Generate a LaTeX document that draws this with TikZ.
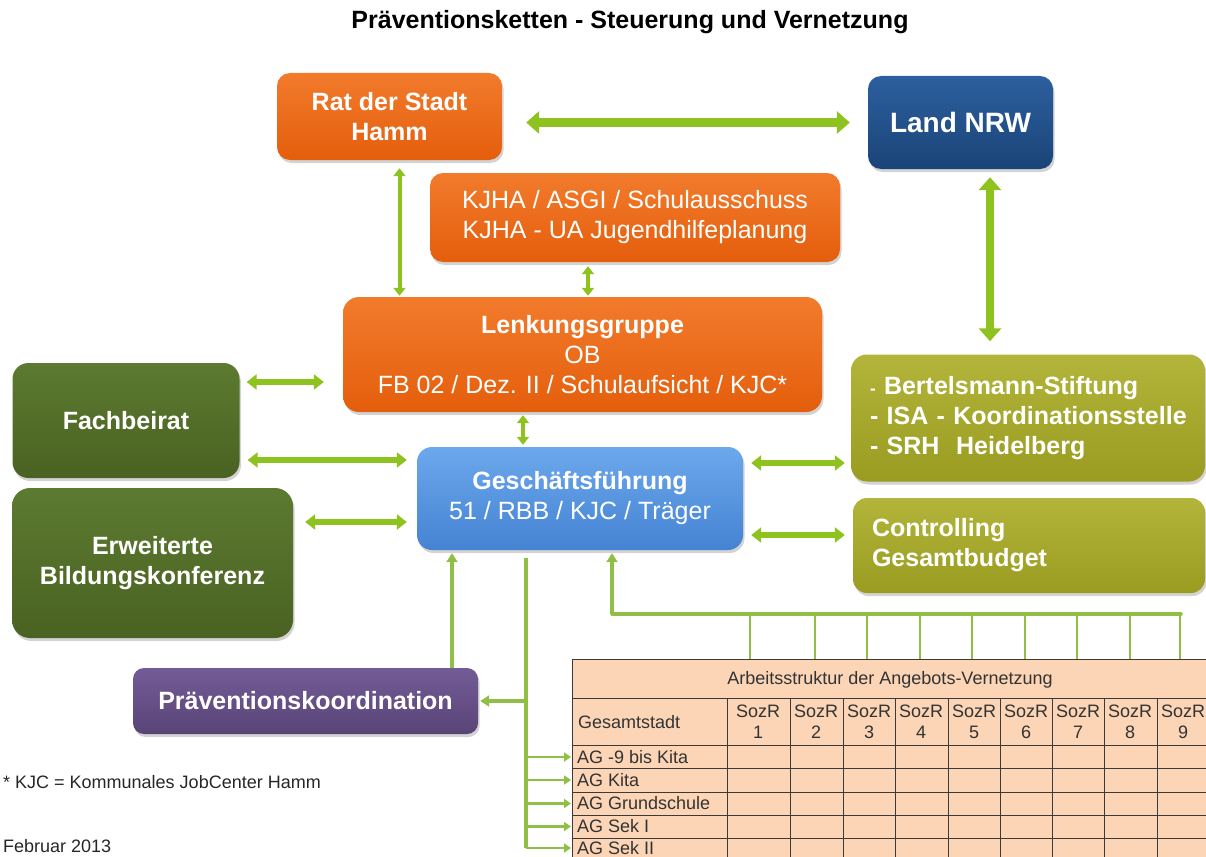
\documentclass[tikz,border=0pt]{standalone}
\usepackage{fontspec}
\setmainfont{Liberation Sans}
\usetikzlibrary{arrows.meta,shadows,calc}
\definecolor{cOrTop}{HTML}{F27B2C}
\definecolor{cOrBot}{HTML}{E45E0C}
\definecolor{cNavyTop}{HTML}{2D5F9E}
\definecolor{cNavyBot}{HTML}{1A4478}
\definecolor{cBlueTop}{HTML}{6CA8EC}
\definecolor{cBlueBot}{HTML}{4583D3}
\definecolor{cDGTop}{HTML}{5C7A30}
\definecolor{cDGBot}{HTML}{4A6222}
\definecolor{cOlTop}{HTML}{B3B53A}
\definecolor{cOlBot}{HTML}{9A9C22}
\definecolor{cPuTop}{HTML}{735C96}
\definecolor{cPuBot}{HTML}{594477}
\definecolor{cArrow}{HTML}{8DC21F}
\definecolor{cLine}{HTML}{8FBF45}
\definecolor{cTab}{HTML}{FBD5B6}
\definecolor{cTabLine}{HTML}{3A3A3A}
\newcommand\fsbig{\fontsize{25}{30}\selectfont}
\newcommand\fstab{\fontsize{18}{21}\selectfont}
\begin{document}
\begin{tikzpicture}[x=1pt,y=-1pt,
  box/.style={rounded corners=13pt, text=white, align=center, inner sep=0pt, font=\fsbig,
     drop shadow={opacity=0.35, shadow xshift=1.5pt, shadow yshift=-3pt}},
  orbox/.style={box, top color=cOrTop, bottom color=cOrBot},
  navybox/.style={box, top color=cNavyTop, bottom color=cNavyBot},
  bluebox/.style={box, top color=cBlueTop, bottom color=cBlueBot},
  dgbox/.style={box, top color=cDGTop, bottom color=cDGBot},
  olbox/.style={box, top color=cOlTop, bottom color=cOlBot, align=left, inner xsep=19pt, font=\fsbig\bfseries},
  pubox/.style={box, top color=cPuTop, bottom color=cPuBot},
  bigarrow/.style={draw=cArrow, line width=8pt, {Triangle[width=22pt,length=13pt]}-{Triangle[width=22pt,length=13pt]}},
  midarrow/.style={draw=cArrow, line width=5.5pt, {Triangle[width=15pt,length=10pt]}-{Triangle[width=15pt,length=10pt]}},
  smallarrow/.style={draw=cArrow, line width=4pt, {Triangle[width=12pt,length=8pt]}-{Triangle[width=12pt,length=8pt]}},
  conn/.style={draw=cLine, line width=3.5pt},
  connarrow/.style={conn, -{Triangle[width=11pt,length=9pt]}},
  thinconn/.style={draw=cLine, line width=2pt},
  tabtext/.style={font=\fstab, text=black!80, inner sep=0pt},
  tabline/.style={draw=cTabLine, line width=0.9pt}
]
\useasboundingbox (0,0) rectangle (1206,856);

\node[font=\fsbig\bfseries] (title) at (630,22) {Präventionsketten - Steuerung und Vernetzung};

% boxes
\node[orbox, minimum width=225pt, minimum height=87pt] (rat) at (389.5,116.5) {\bfseries Rat der Stadt\\\bfseries Hamm};
\node[navybox, minimum width=185pt, minimum height=93pt, font=\fontsize{28}{32}\selectfont\bfseries] (land) at (960.5,122.5) {Land NRW};
\node[orbox, minimum width=410pt, minimum height=89pt] (kjha) at (635,217.5) {KJHA / ASGI / Schulausschuss\\KJHA - UA Jugendhilfeplanung};
\node[orbox, minimum width=479pt, minimum height=115pt, rounded corners=16pt] (lenk) at (582.5,354.5) {\bfseries Lenkungsgruppe\\OB\\FB 02 / Dez. II / Schulaufsicht / KJC*};
\node[bluebox, minimum width=326pt, minimum height=103pt, rounded corners=15pt] (gesch) at (580,498.5) {\bfseries Geschäftsführung\\51 / RBB / KJC / Träger};
\node[dgbox, minimum width=227pt, minimum height=115pt, rounded corners=16pt] (fach) at (126,420.5) {\bfseries Fachbeirat};
\node[dgbox, minimum width=281pt, minimum height=150pt, rounded corners=18pt] (erw) at (152.5,563) {\bfseries Erweiterte\\\bfseries Bildungskonferenz};
\node[olbox, text width=316pt, minimum height=127pt, rounded corners=16pt] (bert) at (1028,418)
  {\mbox{{\fontsize{17}{30}\selectfont -} Bertelsmann-Stiftung}\\\mbox{- ISA - Koordinationsstelle}\\\mbox{- SRH~~Heidelberg}};
\node[olbox, text width=314pt, minimum height=95pt, rounded corners=14pt] (ctrl) at (1029,545.5) {Controlling\\Gesamtbudget};
\node[pubox, minimum width=345pt, minimum height=66pt, rounded corners=11pt] (praev) at (305.5,701) {\bfseries Präventionskoordination};

% thick double arrows
\draw[bigarrow, shorten <=24pt, shorten >=18pt] (rat.east |- land.west) -- (land.west);
\draw[bigarrow, shorten <=8pt, shorten >=13pt] ([xshift=29.5pt]land.south) -- ([xshift=29.5pt]land.south |- bert.north);
\draw[smallarrow, shorten <=8pt, shorten >=1pt] ([xshift=10pt]rat.south) -- ([xshift=10pt]rat.south |- lenk.north);
\draw[smallarrow, shorten <=4pt, shorten >=1pt] ([xshift=-47pt]kjha.south) -- ([xshift=-47pt]kjha.south |- lenk.north);
\draw[smallarrow, shorten <=3pt, shorten >=2pt] ([xshift=-59.5pt]lenk.south) -- ([xshift=-59.5pt]lenk.south |- gesch.north);
\draw[midarrow, shorten <=7pt, shorten >=19pt] ([yshift=38.5pt]fach.east) -- ([yshift=38.5pt]fach.east -| lenk.west);
\draw[midarrow, shorten <=8pt, shorten >=10pt] ([yshift=-39.5pt]fach.east) -- ([yshift=-39.5pt]fach.east -| gesch.west);
\draw[midarrow, shorten <=12pt, shorten >=10pt] ([yshift=41pt]erw.east) -- ([yshift=41pt]erw.east -| gesch.west);
\draw[midarrow, shorten <=8pt, shorten >=6pt] ([yshift=35.5pt]gesch.east) -- ([yshift=35.5pt]gesch.east -| bert.west);
\draw[midarrow, shorten <=8pt, shorten >=8pt] ([yshift=-36.5pt]gesch.east) -- ([yshift=-36.5pt]gesch.east -| ctrl.west);

% table
\fill[cTab] (572,659) rectangle (1214,866);
\draw[tabline] (572,659) rectangle (1214,866);
\foreach \yy in {698,745,768,792,815,838} \draw[tabline] (572,\yy) -- (1214,\yy);
\foreach \xx in {727,790,843,895,948,1000,1052,1104,1157,1209} \draw[tabline] (\xx,698) -- (\xx,866);
\node[tabtext] (tabtitle) at (890,680) {Arbeitsstruktur der Angebots-Vernetzung};
\node[tabtext, anchor=west] (gesamt) at (578,722) {Gesamtstadt};
\foreach \i/\cx in {1/758,2/816,3/869,4/921,5/974,6/1026,7/1078,8/1130,9/1183}
  \node[tabtext, align=center, font=\fontsize{18}{21}\selectfont] (soz\i) at (\cx,722) {SozR\\\i};
\node[tabtext, anchor=west, inner xsep=5pt] (ag1) at (572,757) {AG -9 bis Kita};
\node[tabtext, anchor=west, inner xsep=5pt] (ag2) at (572,780) {AG Kita};
\node[tabtext, anchor=west, inner xsep=5pt] (ag3) at (572,803.5) {AG Grundschule};
\node[tabtext, anchor=west, inner xsep=5pt] (ag4) at (572,826.5) {AG Sek I};
\node[tabtext, anchor=west, inner xsep=5pt] (ag5) at (572,848) {AG Sek II};

% lower connectors
\draw[connarrow, shorten >=3pt] ([xshift=146.5pt]praev.north) -- ([xshift=146.5pt]praev.north |- gesch.south);
\coordinate (trunktop) at ([xshift=-54pt,yshift=-8pt]gesch.south);
\coordinate (trunkbot) at (trunktop |- ag5.west);
\draw[conn] (trunktop) -- (trunkbot);
\draw[connarrow, shorten >=2pt] (trunktop |- praev.east) -- (praev.east);
\foreach \r in {1,...,5} \draw[draw=cLine, line width=2.5pt, -{Triangle[width=9pt,length=7pt]}, shorten >=1pt] (trunktop |- ag\r.west) -- (ag\r.west);
\coordinate (fbcorner) at (612,614);
\coordinate (fbend) at (1181,614);
\draw[connarrow, shorten >=3pt] (fbcorner) -- (fbcorner |- gesch.south);
\draw[conn, line cap=round] (fbcorner) -- (fbend);
\foreach \xx in {750,815,867,920,972,1025,1077,1130,1180} \draw[thinconn] (\xx,614) -- (\xx,659);

% notes
\node[font=\fstab, anchor=base west, inner sep=0pt, text=black!85] (note) at (3,788) {* KJC = Kommunales JobCenter Hamm};
\node[font=\fstab, anchor=base west, inner sep=0pt, text=black!85] (date) at (3,852) {Februar 2013};
\end{tikzpicture}
\end{document}
